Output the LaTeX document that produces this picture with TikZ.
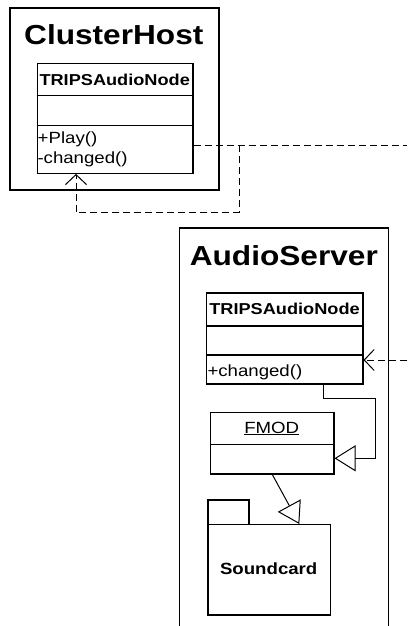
\documentclass[tikz,border=0pt]{standalone}
\usepackage{fontspec}
\setmainfont{Liberation Sans}[FakeStretch=1.15]
\usetikzlibrary{arrows.meta}
\tikzset{
  pkgline/.style={draw=black, line width=1.6pt},
  classbox/.style={draw=black, line width=1.2pt, inner sep=0pt, anchor=north west},
  divline/.style={draw=black, line width=1.2pt},
  txt/.style={inner sep=0pt, anchor=base},
  txtw/.style={inner sep=0pt, anchor=base west},
  titlefont/.style={font=\fontsize{27.5}{30}\selectfont\bfseries},
  namefont/.style={font=\fontsize{15.8}{18}\selectfont\bfseries},
  opfont/.style={font=\fontsize{16.2}{18}\selectfont},
  depend/.style={draw=black, line width=1pt, dash pattern=on 7pt off 4pt, -{Straight Barb[length=10pt,width=21pt,line width=1pt]}},
  dashline/.style={draw=black, line width=1pt, dash pattern=on 7pt off 4pt},
  general/.style={draw=black, line width=1pt, -{Triangle[open,length=21pt,width=26pt,line width=1pt]}}
}
\begin{document}
\begin{tikzpicture}[x=1pt,y=-1pt]
\useasboundingbox (0,0) rectangle (407,626);
\begin{scope}
\clip (0,0) rectangle (407,626);
% ClusterHost package
\node[classbox, line width=1.6pt, minimum width=209pt, minimum height=181.5pt] (host) at (9.3,7.5) {};
\node[txt, titlefont] (hosttitle) at (113.8,45) {ClusterHost};
% class 1
\node[classbox, minimum width=155.6pt, minimum height=110pt] (c1) at (36.7,62.7) {};
\draw[divline] (36.7,95.7) -- (192.3,95.7);
\draw[divline] (36.7,125.3) -- (192.3,125.3);
\node[txt, namefont] (c1name) at (114.7,85) {TRIPSAudioNode};
\node[txtw, opfont] (c1op1) at (37.5,143.3) {+Play()};
\node[txtw, opfont] (c1op2) at (37.3,163.5) {-changed()};
% AudioServer package (open at bottom)
\coordinate (asbl) at (179.3,640);
\coordinate (asbr) at (388.3,640);
\draw[pkgline] (asbl) -- (179.3,227.7) -- (388.3,227.7) -- (asbr);
\node[txt, titlefont] (astitle) at (283.8,265) {AudioServer};
% class 2
\node[classbox, minimum width=156.3pt, minimum height=91pt] (c2) at (206,292.3) {};
\draw[divline] (206,326) -- (362.3,326);
\draw[divline] (206,355) -- (362.3,355);
\node[txt, namefont] (c2name) at (284.5,314.3) {TRIPSAudioNode};
\node[txtw, opfont] (c2op1) at (207.3,376) {+changed()};
% FMOD
\node[classbox, minimum width=123.3pt, minimum height=61.6pt] (fmod) at (210,411.7) {};
\draw[divline] (210,444.3) -- (333.3,444.3);
\node[txt, opfont] (fmodname) at (271.7,433) {\underline{FMOD}};
% Soundcard package
\node[classbox, minimum width=41pt, minimum height=24.7pt] (sctab) at (207.3,499.3) {};
\node[classbox, minimum width=122.7pt, minimum height=90.3pt] (sc) at (207.3,524) {};
\node[txt, font=\fontsize{16.2}{18}\selectfont\bfseries] (scname) at (268.7,574) {Soundcard};
% connectors
\coordinate (rA) at (407,145.3);
\coordinate (jA) at (239.3,145.3);
\draw[dashline] (c1.east |- rA) -- (rA);
\draw[depend] (jA) -- (239.3,212.3) -- (76,212.3) -- (c1.south -| 76,0);
\coordinate (rB) at (407,360);
\draw[depend] (rB) -- (c2.east |- rB);
\coordinate (c2out) at (323.3,383.3);
\draw[general] (c2.south -| c2out) -- (323.3,398.3) -- (375.7,398.3) -- (375.7,458.3) -- (fmod.east |- 0,458.3);
\coordinate (fmout) at (272.3,473.3);
\coordinate (sctip) at (299.3,524);
\draw[general] (fmod.south -| fmout) -- (sctip);
\end{scope}
\end{tikzpicture}
\end{document}
